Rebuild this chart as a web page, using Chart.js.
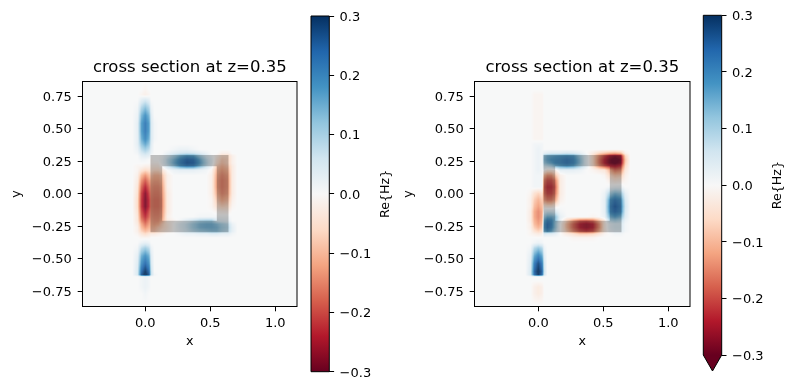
<!DOCTYPE html>
<html><head><meta charset="utf-8">
<style>html,body{margin:0;padding:0;background:#fff;width:794px;height:390px;overflow:hidden}
canvas{position:absolute;left:0;top:0}</style>
<script src="https://cdn.jsdelivr.net/npm/chart.js@4"></script>
</head><body>
<canvas id="a" width="794" height="390"></canvas>
<canvas id="ca" width="794" height="390"></canvas>
<canvas id="b" width="794" height="390"></canvas>
<canvas id="cb" width="794" height="390"></canvas>
<script>
const titleText='cross section at z=0.35', xLabel='x', yLabel='y', cbLabel='Re{Hz}';
const xTicks=[0,0.5,1], xTickLabels=['0.0','0.5','1.0'];
const yTicks=[-0.75,-0.5,-0.25,0,0.25,0.5,0.75];
const yTickLabels=['\u22120.75','\u22120.50','\u22120.25','0.00','0.25','0.50','0.75'];
const cbTicks=[-0.3,-0.2,-0.1,0,0.1,0.2,0.3];
const cbTickLabels=['\u22120.3','\u22120.2','\u22120.1','0.0','0.1','0.2','0.3'];
const rdbu=[[103,0,31],[178,24,43],[214,96,77],[244,165,130],[253,219,199],[247,247,247],[209,229,240],[146,197,222],[67,147,195],[33,102,172],[5,48,97]];
const ringOuter=[0.04,0.64,-0.297,0.297], ringInner=[0.13,0.55,-0.21,0.21];
const xGrid=[-0.10,-0.06,-0.03,0,0.03,0.045,0.07,0.10,0.13,0.17,0.22,0.27,0.32,0.37,0.42,0.47,0.51,0.55,0.59,0.635,0.67,0.71];
const yGrid=[0.86,0.80,0.76,0.72,0.66,0.60,0.54,0.48,0.42,0.38,0.34,0.31,0.29,0.26,0.235,0.21,0.18,0.14,0.10,0.05,0,-0.05,-0.10,-0.14,-0.18,-0.21,-0.235,-0.26,-0.29,-0.31,-0.34,-0.38,-0.42,-0.48,-0.54,-0.60,-0.625,-0.64,-0.67,-0.72,-0.77,-0.86];
// field values in hundredths; rows follow yGrid, columns follow xGrid, missing trailing cells are 0
const fieldLeft=[
[],
[0,0,0,-1],
[0,0,-1,-2,-1],
[0,0,3,5,3],
[0,1,9,13,9,2],
[0,2,14,19,14,4],
[0,3,17,22,17,5,1],
[0,3,17,22,17,5,1],
[0,3,15,20,15,5,1],
[0,3,12,16,12,4],
[0,2,8,11,8,3,0,0,0,0,1,2,2,1],
[0,1,5,7,5,2,0,0,0,2,4,6,7,6,4,2,0,0,-2,-2],
[0,0,3,4,3,0,0,0,1,5,10,15,18,17,11,5,1,-2,-6,-6,-2],
[0,0,1,1,0,-1,0,0,2,8,14,20,24,23,16,8,3,-4,-8,-7,-2],
[0,0,0,0,0,-1,-1,-1,2,8,15,21,25,24,17,9,3,-5,-9,-7,-2],
[0,-1,-1,-2,-2,-3,-3,-3,0,6,12,18,21,20,14,7,2,-8,-11,-9,-3],
[0,-1,-4,-6,-5,-5,-6,-6,-4,0,2,3,3,3,2,1,-1,-10,-13,-11,-3],
[0,-2,-10,-14,-10,-9,-11,-11,-9,-2,0,0,0,0,0,0,-2,-12,-15,-13,-3],
[0,-3,-14,-19,-14,-12,-13,-13,-11,-2,0,0,0,0,0,0,-2,-13,-16,-14,-3],
[0,-4,-18,-24,-18,-14,-15,-15,-13,-2,0,0,0,0,0,0,-2,-13,-16,-14,-3],
[0,-5,-21,-28,-21,-15,-16,-16,-14,-3,0,0,0,0,0,0,-2,-11,-15,-13,-3],
[0,-6,-22,-29,-23,-16,-17,-17,-15,-3,0,0,0,0,0,0,-1,-8,-12,-10,-2],
[0,-6,-22,-29,-23,-16,-17,-17,-15,-3,0,0,0,0,0,0,-1,-5,-7,-6,-1],
[0,-5,-20,-26,-20,-15,-16,-16,-14,-3,0,0,0,0,0,0,0,-1,-2,-2],
[0,-4,-18,-23,-18,-14,-15,-15,-13,-2,0,0,0,0,1,1,1,1,1,1],
[0,-4,-15,-20,-15,-13,-14,-14,-11,-3,-1,1,4,7,10,11,11,5,4,3],
[0,-3,-12,-17,-13,-12,-13,-12,-8,-4,0,4,7,11,14,15,15,13,10,8,2],
[0,-2,-10,-14,-11,-11,-11,-9,-7,-4,0,4,7,11,14,15,15,14,11,9,3],
[0,-2,-7,-10,-8,-9,-9,-7,-5,-3,0,3,6,9,11,12,13,13,10,8,3],
[0,-1,-4,-6,-4,-3,-3,-2,-1,0,0,1,2,2,3,3,4,4,3,3,1],
[0,0,-1,-1,-1],
[0,0,2,3,2],
[0,1,8,11,8,2],
[0,3,15,19,15,4],
[0,4,19,24,19,5],
[0,5,24,30,24,7],
[0,5,26,32,26,7,1],
[0,0,1,2,1],
[0,0,1,2,1],
[0,0,1,2,1],
[0,0,0,1],
[]];
const fieldRight=[
[],
[],
[0,0,-1,-1,-1],
[0,0,-1,-1,-1],
[0,0,-1,-1,-1],
[0,0,-1,-1,-1],
[0,0,-1,-1,-1],
[0,0,-1,-1,-1],
[0,0,-1,-1,-1],
[0,0,1,1,1],
[0,0,1,2,1],
[0,0,1,2,1,3,4,5,5,5,6,5,3,0,-3,-7,-9,-11,-12,-10,-2],
[0,0,1,2,1,12,15,16,17,18,19,18,11,3,-6,-15,-21,-26,-28,-26,-7],
[0,0,1,2,1,13,16,18,19,20,22,20,13,3,-6,-17,-24,-29,-32,-29,-9],
[0,0,1,2,1,11,14,16,19,20,22,20,13,3,-6,-17,-24,-29,-31,-28,-8],
[0,0,1,2,1,6,7,9,13,16,18,16,10,3,-5,-14,-19,-23,-25,-22,-6],
[0,0,1,2,1,0,-3,-3,-2,3,3,3,2,0,-1,-3,-4,-11,-17,-15,-4],
[0,0,1,1,1,-10,-14,-14,-9,-2,0,0,0,0,0,0,-1,-6,-9,-8,-2],
[0,0,1,1,1,-16,-20,-20,-16,-3,0,0,0,0,0,0,0,-2,-4,-3,-1],
[0,0,1,1,1,-19,-23,-23,-19,-3,0,0,0,0,0,0,0,1,2,2],
[0,-1,-5,-7,-5,-17,-21,-21,-17,-3,0,0,0,0,0,0,2,10,14,12,3],
[0,-2,-8,-11,-8,-13,-16,-16,-12,-2,0,0,0,0,0,0,3,18,22,19,5],
[0,-2,-10,-13,-10,-3,-4,-4,-2,0,0,0,0,0,0,0,3,20,25,21,6],
[0,-3,-12,-15,-12,4,6,6,5,1,0,0,0,0,0,0,3,19,23,20,5],
[0,-3,-12,-15,-12,11,15,15,13,3,0,0,0,0,-1,0,2,14,17,14,4],
[0,-3,-11,-14,-11,16,21,20,13,2,-7,-14,-19,-20,-18,-10,-3,8,10,8,2],
[0,-2,-10,-13,-10,18,23,21,12,0,-10,-18,-24,-26,-24,-14,-3,3,5,5,1],
[0,-2,-8,-11,-8,18,23,20,12,0,-10,-18,-24,-26,-24,-14,-3,3,5,5,1],
[0,-1,-5,-7,-5,15,19,16,9,0,-8,-15,-20,-22,-20,-11,-3,2,4,4,1],
[0,-1,-2,-3,-2,5,4,4,3,0,-3,-5,-8,-8,-7,-4,-1,0,1,1],
[0,0,0,0,0,0,0,0,0,0,0,-1,-1,-1,-1],
[0,0,1,2,1],
[0,1,9,12,9,2],
[0,3,16,21,16,4],
[0,4,22,28,22,6],
[0,5,25,31,25,7],
[0,5,24,30,24,6],
[],
[],
[0,0,-2,-3,-2],
[0,0,-2,-3,-2],
[]];

const FONT='"DejaVu Sans"';
const vmax=0.3, backdrop=0.001, fieldAlpha=0.92;
function cmap(v){
  const t=Math.max(0,Math.min(1,(v+vmax)/(2*vmax)))*10, i=Math.min(9,Math.floor(t)), f=t-i;
  return [0,1,2].map(k=>rdbu[i][k]+(rdbu[i+1][k]-rdbu[i][k])*f);
}
function bracket(g,v,desc){
  for(let i=0;i<g.length-1;i++){
    const a=g[i],b=g[i+1];
    if(desc? (v<=a&&v>=b):(v>=a&&v<=b)) return [i,(v-a)/(b-a)];
  }
  return null;
}
const heatPlugin={id:'heat',
  beforeDatasetsDraw(ch){
    const {ctx,chartArea:A,scales:{x,y}}=ch, cells=ch.data.datasets[0].data, nx=xGrid.length;
    const L=Math.round(A.left),T=Math.round(A.top),W=Math.round(A.right)-L,H=Math.round(A.bottom)-T;
    const off=document.createElement('canvas');off.width=W;off.height=H;
    const oc=off.getContext('2d'),img=oc.createImageData(W,H);
    for(let j=0;j<H;j++){
      const by=bracket(yGrid,y.getValueForPixel(T+j+0.5),true);
      for(let i=0;i<W;i++){
        const bx=bracket(xGrid,x.getValueForPixel(L+i+0.5),false);
        let v=0;
        if(bx&&by){
          const [c,u]=bx,[r,w]=by,at=(rr,cc)=>cells[rr*nx+cc].v;
          v=(at(r,c)*(1-u)+at(r,c+1)*u)*(1-w)+(at(r+1,c)*(1-u)+at(r+1,c+1)*u)*w;
        }
        const rgb=cmap(v+backdrop),p=(j*W+i)*4;
        img.data[p]=rgb[0];img.data[p+1]=rgb[1];img.data[p+2]=rgb[2];img.data[p+3]=255*fieldAlpha;
      }
    }
    oc.putImageData(img,0,0);
    ctx.drawImage(off,L,T);
  },
  afterDatasetsDraw(ch){
    const {ctx,chartArea:A,scales:{x,y}}=ch;
    const rect=r=>ctx.rect(x.getPixelForValue(r[0]),y.getPixelForValue(r[3]),x.getPixelForValue(r[1])-x.getPixelForValue(r[0]),y.getPixelForValue(r[2])-y.getPixelForValue(r[3]));
    ctx.save();
    ctx.beginPath();rect(ringOuter);rect(ringInner);
    ctx.fillStyle='rgba(0,0,0,0.23)';ctx.fill('evenodd');
    ctx.strokeStyle='#000';ctx.lineWidth=1;
    ctx.strokeRect(A.left,A.top,A.right-A.left,A.bottom-A.top);
    ctx.restore();
  }};
const tickFont={family:FONT,size:13}, labelFont={family:FONT,size:12.7};
function fieldChart(id,rows,area,xr,yr){
  const cells=[];
  rows.forEach((row,r)=>xGrid.forEach((gx,c)=>cells.push({x:gx,y:yGrid[r],v:(row[c]||0)/100})));
  return new Chart(document.getElementById(id),{type:'scatter',plugins:[heatPlugin],
    data:{datasets:[{data:cells,pointRadius:0,showLine:false}]},
    options:{responsive:false,animation:false,events:[],
      layout:{padding:{left:area.l-73,right:794-area.r,top:area.t-23.8,bottom:390-area.b-43}},
      plugins:{legend:{display:false},tooltip:{enabled:false},
        title:{display:true,text:titleText,fullSize:false,color:'#000',font:{family:FONT,size:16.5,weight:'normal'},padding:{top:0,bottom:4}}},
      scales:{
        x:{type:'linear',min:xr[0],max:xr[1],
          afterFit(s){s.height=43},
          afterBuildTicks(s){s.ticks=xTicks.map(v=>({value:v}))},
          border:{display:false},
          grid:{drawOnChartArea:false,drawTicks:true,tickLength:4.8,color:'#000',tickColor:'#000'},
          ticks:{color:'#000',font:tickFont,padding:5,autoSkip:false,maxRotation:0,minRotation:0,callback:(v,i)=>xTickLabels[i]},
          title:{display:true,text:xLabel,color:'#000',font:labelFont,padding:0}},
        y:{type:'linear',min:yr[0],max:yr[1],
          afterFit(s){s.width=73},
          afterBuildTicks(s){s.ticks=yTicks.map(v=>({value:v}))},
          border:{display:false},
          grid:{drawOnChartArea:false,drawTicks:true,tickLength:4.8,color:'#000',tickColor:'#000'},
          ticks:{color:'#000',font:tickFont,padding:6,labelOffset:1.5,autoSkip:false,callback:(v,i)=>yTickLabels[i]},
          title:{display:true,text:yLabel,color:'#000',font:labelFont,padding:0}}
      }}});
}
function colorbar(id,area,labelX,extend){
  const cbPlugin={id:'cbdeco',
    afterDatasetsDraw(ch){
      const {ctx,chartArea:A}=ch, mid=(A.left+A.right)/2, tip=A.bottom+16;
      ctx.save();
      ctx.beginPath();ctx.moveTo(A.left,A.bottom);
      if(extend){
        ctx.lineTo(mid,tip);ctx.lineTo(A.right,A.bottom);
        ctx.fillStyle='rgb('+rdbu[0].join(',')+')';ctx.fill();
      } else ctx.lineTo(A.right,A.bottom);
      ctx.lineTo(A.right,A.top);ctx.lineTo(A.left,A.top);ctx.closePath();
      ctx.strokeStyle='#000';ctx.lineWidth=1;ctx.stroke();
      ctx.translate(labelX,(A.top+A.bottom)/2);ctx.rotate(-Math.PI/2);
      ctx.fillStyle='#000';ctx.font=labelFont.size+'px '+FONT;ctx.textAlign='center';ctx.textBaseline='middle';
      ctx.fillText(cbLabel,0,0);
      ctx.restore();
    }};
  return new Chart(document.getElementById(id),{type:'bar',plugins:[cbPlugin],
    data:{labels:[cbLabel],datasets:[{data:[[-vmax,vmax]],barPercentage:1,categoryPercentage:1,borderWidth:0,
      backgroundColor(c){
        const A=c.chart.chartArea; if(!A) return '#fff';
        const g=c.chart.ctx.createLinearGradient(0,A.bottom,0,A.top);
        rdbu.forEach((s,i)=>g.addColorStop(i/10,'rgb('+s.join(',')+')'));
        return g;
      }}]},
    options:{responsive:false,animation:false,events:[],
      layout:{padding:{left:area.l,right:794-area.r-60,top:area.t,bottom:390-area.b}},
      plugins:{legend:{display:false},tooltip:{enabled:false},title:{display:false}},
      scales:{
        x:{display:false},
        y:{type:'linear',position:'right',min:-vmax,max:vmax,
          afterFit(s){s.width=60},
          afterBuildTicks(s){s.ticks=cbTicks.map(v=>({value:v}))},
          border:{display:false},
          grid:{drawOnChartArea:false,drawTicks:true,tickLength:4.8,color:'#000',tickColor:'#000'},
          ticks:{color:'#000',font:tickFont,padding:5.5,labelOffset:1.5,autoSkip:false,callback:(v,i)=>cbTickLabels[i]}}
      }}});
}
fieldChart('a',fieldLeft,{l:82.5,r:297,t:81.5,b:306.5},[-0.483,1.167],[-0.869,0.862]);
fieldChart('b',fieldRight,{l:474.5,r:690,t:81.5,b:306.5},[-0.491,1.167],[-0.869,0.862]);
colorbar('ca',{l:311,r:329.3,t:16,b:371.7},386,false);
colorbar('cb',{l:703.3,r:721.7,t:15.3,b:355},777.5,true);
</script>
</body></html>
